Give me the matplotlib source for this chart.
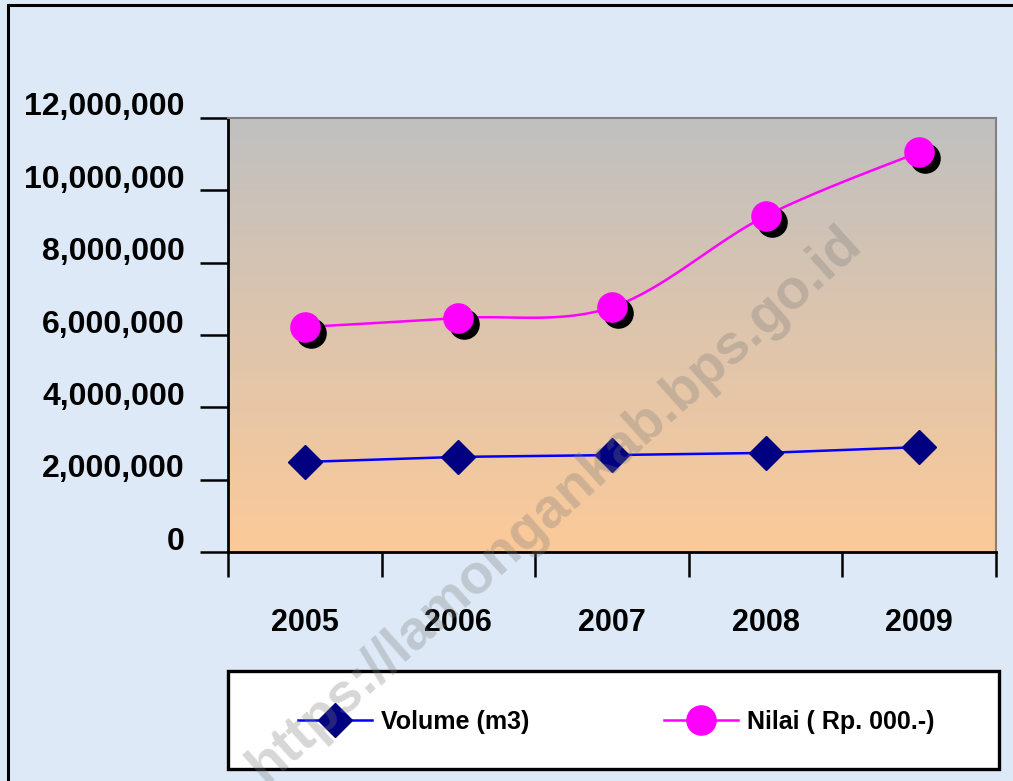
import numpy as np
import matplotlib.pyplot as plt
import matplotlib.transforms as mtransforms
from matplotlib.patches import Rectangle
from matplotlib.lines import Line2D

# data
years = ["2005", "2006", "2007", "2008", "2009"]
volume = [2490000, 2630000, 2680000, 2740000, 2900000]
nilai = [6220000, 6470000, 6770000, 9290000, 11060000]
y_ticks = [0, 2000000, 4000000, 6000000, 8000000, 10000000, 12000000]
series_names = ["Volume (m3)", "Nilai ( Rp. 000.-)"]

plt.rcParams['font.family'] = ['Liberation Sans', 'DejaVu Sans']

W, H = 1013, 781
fig = plt.figure(figsize=(W / 100, H / 100), dpi=100)
fig.patch.set_facecolor('#dde9f6')

# outer frame (runs off the right and bottom edges)
fig.add_artist(Rectangle((8 / W, -0.05), 1.1, 1 - 5 / H + 0.05, transform=fig.transFigure,
                         fill=False, edgecolor='black', lw=2.2))

ax = fig.add_axes([228 / W, 1 - 552 / H, 768 / W, 434 / H])

# gradient background (grey on top, peach at bottom)
top = np.array([192, 192, 192]) / 255
bot = np.array([252, 202, 153]) / 255
t = np.linspace(0, 1, 256)[:, None]
grad = (top * (1 - t) + bot * t)[:, None, :]
ax.imshow(grad, extent=[0, 5, 0, 12000000], aspect='auto', origin='upper', zorder=0)

x = np.arange(len(years)) + 0.5


def smooth(xs, ys, n=30):
    # Excel-like smoothed line: cubic bezier with catmull-rom control points
    px = np.concatenate([[xs[0]], xs, [xs[-1]]])
    py = np.concatenate([[ys[0]], ys, [ys[-1]]])
    outx, outy = [], []
    s = np.linspace(0, 1, n)
    for i in range(1, len(px) - 2):
        p0 = np.array([px[i], py[i]])
        p3 = np.array([px[i + 1], py[i + 1]])
        c1 = p0 + (np.array([px[i + 1], py[i + 1]]) - np.array([px[i - 1], py[i - 1]])) / 6
        c2 = p3 - (np.array([px[i + 2], py[i + 2]]) - np.array([px[i], py[i]])) / 6
        b = ((1 - s) ** 3)[:, None] * p0 + (3 * (1 - s) ** 2 * s)[:, None] * c1 \
            + (3 * (1 - s) * s ** 2)[:, None] * c2 + (s ** 3)[:, None] * p3
        outx.extend(b[:, 0])
        outy.extend(b[:, 1])
    return outx, outy


sx, sy = smooth(x, np.array(nilai, dtype=float))
shadow = ax.transData + mtransforms.ScaledTranslation(6 / 100, -6 / 100, fig.dpi_scale_trans)

ax.plot(x, volume, color='#0000ff', lw=1.8, zorder=3)
ax.plot(x, volume, 'D', ms=17, color='#000080', zorder=4, clip_on=False)
ax.plot(sx, sy, color='#ff00ff', lw=1.8, zorder=3)
ax.plot(x, nilai, 'o', ms=21, color='black', transform=shadow, zorder=4, clip_on=False)
ax.plot(x, nilai, 'o', ms=21, color='#ff00ff', zorder=5, clip_on=False)

ax.set_xlim(0, 5)
ax.set_ylim(0, 12000000)
ax.set_xticks(np.arange(6))
ax.set_xticklabels([])
ax.set_xticks(x, minor=True)
ax.set_xticklabels(years, minor=True, fontsize=22, fontweight='bold')
ax.tick_params(axis='x', which='minor', length=0, pad=40)
ax.tick_params(axis='x', which='major', length=18, width=1.8, direction='out')
ax.set_yticks(y_ticks)
ax.set_yticklabels([f"{v:,}" for v in y_ticks], fontsize=23, fontweight='bold')
ax.tick_params(axis='y', length=20, width=1.8, direction='out', pad=11)
off = mtransforms.ScaledTranslation(0, 14 / 100, fig.dpi_scale_trans)
for lab in ax.get_yticklabels():
    lab.set_transform(lab.get_transform() + off)

for side in ['left', 'bottom']:
    ax.spines[side].set_linewidth(2)
    ax.spines[side].set_color('black')
for side in ['top', 'right']:
    ax.spines[side].set_linewidth(1.5)
    ax.spines[side].set_color('#808080')

# legend box
fig.add_artist(Rectangle((228 / W, 1 - 769 / H), 771 / W, 98 / H, transform=fig.transFigure,
                         facecolor='white', edgecolor='black', lw=2.4, zorder=1))
handles = [
    Line2D([], [], color='#0000ff', lw=1.8, marker='D', ms=17, mfc='#000080', mec='#000080'),
    Line2D([], [], color='#ff00ff', lw=1.8, marker='o', ms=21, mfc='#ff00ff', mec='#ff00ff'),
]
for h, name, xl in zip(handles, series_names, [298, 664]):
    leg = fig.legend([h], [name], loc='center left', bbox_to_anchor=(xl / W, 1 - 722 / H),
                     frameon=False, borderpad=0, borderaxespad=0,
                     prop={'weight': 'bold', 'size': 18},
                     handlelength=2.95, handletextpad=0.36)
    leg.set_zorder(2)

# watermark
fig.text(555 / W, 1 - 505 / H, "https://lamongankab.bps.go.id", rotation=42, fontsize=40,
         fontweight='bold', color='#7a7a7a', alpha=0.3, ha='center', va='center', zorder=10)

fig.savefig('out.png', dpi=100, facecolor=fig.get_facecolor())
